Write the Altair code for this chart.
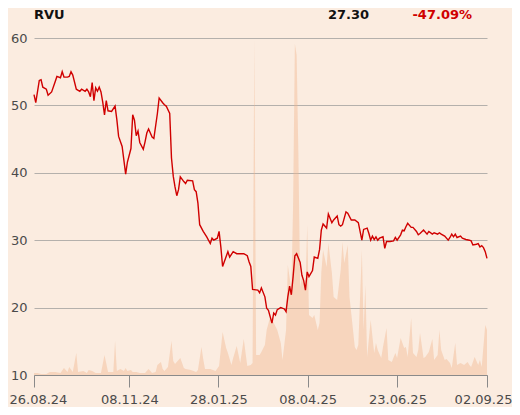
import altair as alt
import pandas as pd

# ---- data (x = trading-day index) ----
price_day = [0, 1, 3, 4, 5, 7, 8, 10, 12, 13, 15, 16, 17, 19, 20, 21, 22, 24, 26, 27,
             29, 30, 31, 32, 33, 34, 35, 36, 37, 38, 39, 40, 41, 42, 44, 46, 47, 48, 50, 52,
             53, 55, 56, 57, 58, 59, 60, 62, 63, 64, 65, 67, 68, 70, 71, 73, 74, 75, 77, 78,
             79, 80, 81, 82, 83, 85, 86, 87, 90, 91, 92, 93, 94, 96, 98, 100, 101, 102, 104, 105,
             106, 107, 110, 111, 113, 115, 119, 121, 122, 123, 124, 127, 128, 129, 131, 132, 133, 135, 136, 137,
             138, 140, 142, 143, 144, 145, 146, 147, 148, 149, 151, 152, 153, 154, 155, 156, 158, 159, 161, 162,
             163, 164, 166, 167, 169, 170, 172, 173, 174, 175, 177, 178, 180, 182, 184, 186, 187, 189, 190, 191,
             192, 193, 194, 195, 196, 198, 199, 200, 202, 204, 205, 206, 208, 209, 210, 211, 212, 214, 215, 217,
             218, 219, 221, 223, 224, 226, 227, 229, 230, 231, 233, 235, 236, 237, 238, 239, 240, 242, 243, 245,
             247, 248, 249, 251, 252, 253, 254, 255, 256, 257]
price_value = [51.6, 50.4, 53.7, 53.8, 52.7, 52.4, 51.5, 52.0, 53.5, 54.3, 54.1, 55.0, 54.2, 54.2, 54.3, 55.0, 54.5, 52.4, 52.1, 52.4,
               52.1, 52.4, 52.0, 51.3, 53.4, 50.7, 52.6, 52.1, 52.7, 52.0, 50.5, 48.6, 50.7, 49.2, 49.1, 49.9, 47.9, 45.4, 43.9, 39.8,
               41.6, 43.6, 48.6, 47.8, 45.5, 46.2, 44.5, 43.5, 44.6, 45.9, 46.5, 45.3, 45.1, 48.8, 51.1, 50.4, 50.1, 49.9, 48.8, 42.2,
               39.5, 37.9, 36.6, 37.5, 39.4, 38.7, 38.4, 38.9, 38.8, 37.5, 37.2, 35.5, 32.3, 31.3, 30.5, 29.5, 30.3, 30.0, 30.3, 31.3,
               29.0, 26.1, 28.3, 27.5, 28.3, 28.0, 28.0, 27.7, 26.8, 26.1, 22.7, 22.6, 22.2, 22.9, 21.6, 19.9, 19.6, 17.7, 19.2, 18.9,
               19.7, 20.0, 19.8, 19.4, 21.6, 23.2, 21.9, 24.6, 27.7, 28.0, 26.7, 24.8, 24.0, 22.6, 25.3, 24.6, 25.5, 27.5, 27.3, 28.6,
               31.5, 32.4, 31.8, 33.9, 32.6, 33.0, 33.6, 32.3, 32.1, 32.3, 34.2, 34.0, 33.0, 33.0, 32.6, 30.0, 31.6, 31.8, 31.0, 30.0,
               30.6, 30.1, 30.5, 30.0, 30.3, 30.5, 28.8, 29.8, 29.8, 29.9, 30.4, 30.0, 30.8, 31.5, 31.4, 32.0, 32.5, 31.9, 31.9, 31.3,
               30.8, 31.0, 31.5, 30.9, 31.3, 30.9, 31.1, 30.9, 31.1, 30.9, 30.6, 30.0, 30.4, 30.9, 30.5, 30.9, 30.4, 30.6, 30.3, 30.1,
               30.0, 29.9, 29.3, 29.4, 29.5, 29.0, 29.2, 28.9, 28.3, 27.3]

vol_day = [0, 2, 4, 7, 9, 12, 15, 17, 19, 20, 22, 24, 25, 28, 30, 31, 33, 35, 38, 40,
           42, 43, 45, 46, 47, 49, 51, 52, 53, 55, 56, 58, 60, 63, 65, 67, 69, 70, 72, 73,
           74, 76, 78, 79, 80, 83, 84, 85, 86, 89, 92, 93, 95, 96, 97, 100, 103, 105, 107, 109,
           110, 112, 113, 115, 117, 119, 121, 123, 124, 125, 126, 128, 129, 131, 132, 134, 136, 138, 140, 141,
           143, 144, 146, 147, 148, 149, 150, 151, 152, 154, 155, 156, 158, 159, 161, 162, 163, 164, 166, 167,
           169, 170, 172, 174, 175, 176, 178, 179, 182, 183, 184, 186, 187, 188, 189, 191, 193, 194, 195, 197,
           198, 200, 201, 203, 205, 206, 208, 210, 211, 212, 214, 215, 217, 218, 219, 221, 222, 224, 226, 227,
           229, 230, 231, 233, 234, 236, 237, 239, 240, 242, 244, 246, 247, 248, 250, 252, 253, 254, 256, 257]
vol_value = [2, 2, 1, 1, 3, 3, 2, 7, 3, 8, 3, 22, 3, 4, 2, 5, 4, 2, 2, 20,
             3, 3, 3, 34, 4, 6, 4, 7, 4, 5, 3, 3, 2, 2, 6, 2, 3, 10, 13, 6,
             4, 8, 34, 14, 11, 17, 12, 7, 6, 5, 3, 5, 28, 16, 6, 6, 4, 9, 43, 27,
             22, 10, 17, 29, 12, 36, 9, 10, 12, 335, 20, 20, 23, 30, 45, 58, 52, 45, 32, 15,
             45, 110, 85, 170, 331, 320, 220, 88, 98, 85, 150, 60, 57, 60, 45, 52, 102, 125, 108, 132,
             102, 78, 75, 105, 133, 112, 130, 78, 28, 25, 30, 125, 45, 90, 18, 55, 22, 32, 25, 17,
             28, 47, 15, 13, 22, 17, 37, 27, 28, 18, 57, 22, 18, 25, 42, 17, 18, 23, 36, 15,
             20, 45, 25, 15, 16, 12, 7, 32, 10, 12, 10, 13, 10, 8, 18, 10, 15, 8, 50, 45]

tick_days = [0, 54.1, 104.6, 155.2, 206.2, 257]
tick_labels = ["26.08.24", "08.11.24", "28.01.25", "08.04.25", "23.06.25", "02.09.25"]
y_ticks = [10, 20, 30, 40, 50, 60]
ticker = "RVU"
last_price = "27.30"
change = "-47.09%"

BG = "#FBECE0"
RED = "#D00000"

price_df = pd.DataFrame({"day": price_day, "price": price_value})
vol_df = pd.DataFrame({"day": vol_day, "vol": vol_value})

label_expr = ""
for d, l in zip(tick_days, tick_labels):
    label_expr += f"datum.value == {d} ? '{l}' : "
label_expr += "''"

xscale = alt.Scale(domain=[0, 257], nice=False, zero=False)
xaxis = alt.Axis(values=tick_days, labelExpr=label_expr, tickSize=12, tickColor="#8a8a8a",
                 domainColor="#8a8a8a", grid=False, labelFontSize=13, labelColor="#4a4a4a",
                 labelFont="DejaVu Sans", labelPadding=6, title=None, labelFlush=True,
                 labelFlushOffset=25, labelOverlap=False)

vol = alt.Chart(vol_df).mark_area(color="#F0B68C", opacity=0.42, interpolate="linear").encode(
    x=alt.X("day:Q", scale=xscale, axis=xaxis),
    y=alt.Y("vol:Q", scale=alt.Scale(domain=[0, 337], nice=False, zero=True), axis=None),
)

line = alt.Chart(price_df).mark_line(color=RED, strokeWidth=1.4, interpolate="linear").encode(
    x=alt.X("day:Q", scale=xscale, axis=xaxis),
    y=alt.Y("price:Q", scale=alt.Scale(domain=[10, 60], nice=False, zero=False),
            axis=alt.Axis(values=y_ticks, grid=True, gridColor="#b4b0ac", domain=False, ticks=False,
                          labelPadding=7, labelFontSize=13, labelColor="#4a4a4a", labelFont="DejaVu Sans",
                          title=None)),
)

t1 = alt.Chart(pd.DataFrame({"t": [ticker]})).mark_text(
    align="left", baseline="alphabetic", fontSize=13, fontWeight="bold", font="DejaVu Sans", color="#111111"
).encode(text="t:N", x=alt.value(0), y=alt.value(-19))
t2 = alt.Chart(pd.DataFrame({"t": [last_price]})).mark_text(
    align="right", baseline="alphabetic", fontSize=13, fontWeight="bold", font="DejaVu Sans", color="#111111"
).encode(text="t:N", x=alt.value(335), y=alt.value(-19))
t3 = alt.Chart(pd.DataFrame({"t": [change]})).mark_text(
    align="right", baseline="alphabetic", fontSize=13, fontWeight="bold", font="DejaVu Sans", color=RED
).encode(text="t:N", x=alt.value(438), y=alt.value(-19))

chart = alt.layer(vol, line, t1, t2, t3).resolve_scale(y="independent").properties(
    width=453, height=337,
    autosize=alt.AutoSizeParams(type="none"),
    padding={"left": 26, "top": 30, "right": 25, "bottom": 32},
    background=BG,
).configure_view(stroke=None)

chart.save("out.html", embed_options={"renderer": "svg", "actions": False})
